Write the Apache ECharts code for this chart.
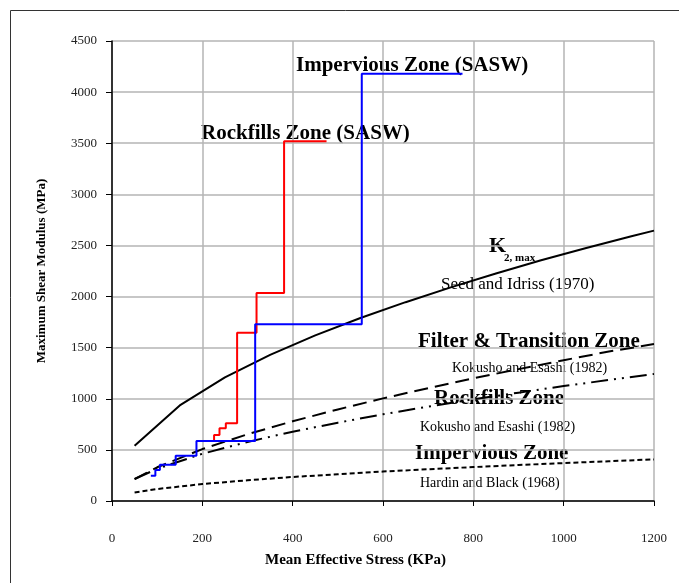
<!DOCTYPE html>
<html>
<head>
<meta charset="utf-8">
<script src="https://cdn.jsdelivr.net/npm/echarts@6/dist/echarts.min.js"></script>
<style>
  html, body { margin: 0; padding: 0; background: #fff; }
  #chart { width: 679px; height: 583px; }
</style>
</head>
<body>
<div id="chart"></div>
<script>
// Seed and Idriss (1970), K2,max
const seedStress = [50, 150, 250, 350, 450, 550, 650, 750, 850, 950, 1050, 1150, 1200];
const seedG = [540, 935, 1210, 1430, 1620, 1790, 1945, 2090, 2225, 2355, 2475, 2590, 2645];

// Kokusho and Esashi / Hardin and Black curves share the stress points
const stress = [50, 100, 200, 300, 400, 500, 600, 700, 800, 900, 1000, 1100, 1200];
const filterG = [215, 330, 508, 653, 780, 896, 1004, 1104, 1200, 1290, 1377, 1462, 1535];
const rockfillG = [215, 315, 462, 578, 678, 766, 848, 923, 994, 1060, 1124, 1184, 1243];
const imperviousG = [83, 117, 166, 203, 235, 262, 288, 311, 332, 352, 371, 389, 407];

// SASW step profiles (corner points)
const rockSaswStress = [226, 226, 238, 252, 277, 320, 381, 475];
const rockSaswG = [587, 646, 711, 760, 1647, 2035, 3520, 3520];
const impSaswStress = [86, 96, 106, 141, 187, 317, 553, 776];
const impSaswG = [248, 303, 355, 443, 588, 1730, 4180, 4180];

const serif = 'Liberation Serif';
const pairs = (xs, ys) => xs.map((x, i) => [x, ys[i]]);

const chart = echarts.init(document.getElementById('chart'));

const lineSeries = (name, xs, ys, color, dash, extra) => Object.assign({
  name: name,
  type: 'line',
  data: pairs(xs, ys),
  symbol: 'none',
  smooth: false,
  silent: true,
  lineStyle: { color: color, width: 2, type: dash }
}, extra || {});

// annotation texts
const label = (text, x, y, size, bold) => ({
  type: 'text',
  left: x,
  top: y - size / 2 - 1,
  style: {
    text: text,
    fill: '#000',
    font: (bold ? 'bold ' : '') + size + 'px "' + serif + '"'
  }
});

chart.setOption({
  animation: false,
  backgroundColor: '#fff',
  grid: { left: 112, top: 41, right: 25, bottom: 82 },
  xAxis: {
    type: 'value',
    min: 0,
    max: 1200,
    interval: 200,
    axisLine: { onZero: false, lineStyle: { color: '#000', width: 1.5 } },
    axisTick: { show: true, length: 5, lineStyle: { color: '#000' } },
    axisLabel: { margin: 31, fontFamily: serif, fontSize: 13, color: '#222', formatter: v => String(v) },
    splitLine: { show: true, lineStyle: { color: '#b4b4b4', width: 1.5 } }
  },
  yAxis: {
    type: 'value',
    min: 0,
    max: 4500,
    interval: 500,
    name: 'Maximum Shear Modulus (MPa)',
    nameLocation: 'middle',
    nameGap: 64,
    nameTextStyle: { fontFamily: serif, fontWeight: 'bold', fontSize: 13, color: '#000' },
    axisLine: { show: true, lineStyle: { color: '#000', width: 1.5 } },
    axisTick: { show: true, length: 6, lineStyle: { color: '#000' } },
    axisLabel: { margin: 15, fontFamily: serif, fontSize: 13, color: '#222', formatter: v => String(v) },
    splitLine: { show: true, lineStyle: { color: '#b4b4b4', width: 1.5 } }
  },
  series: [
    lineSeries('Seed and Idriss (1970)', seedStress, seedG, '#000', 'solid'),
    lineSeries('Filter & Transition Zone', stress, filterG, '#000', [14, 7]),
    lineSeries('Rockfills Zone', stress, rockfillG, '#000', [17, 6, 2, 6, 2, 6]),
    lineSeries('Impervious Zone', stress, imperviousG, '#000', [5, 3]),
    lineSeries('Rockfills Zone (SASW)', rockSaswStress, rockSaswG, '#ff0000', 'solid', { step: 'end' }),
    lineSeries('Impervious Zone (SASW)', impSaswStress, impSaswG, '#0000ff', 'solid', { step: 'end' })
  ],
  graphic: [
    {
      type: 'rect',
      shape: { x: 10.5, y: 10.5, width: 690, height: 600 },
      style: { fill: null, stroke: '#333', lineWidth: 1 },
      silent: true
    },
    label('Mean Effective Stress (KPa)', 265, 561, 15, true),
    label('Impervious Zone (SASW)', 296, 67, 21, true),
    label('Rockfills Zone (SASW)', 201, 135, 21, true),
    label('K', 489, 247, 22, true),
    label('2, max', 504, 259, 11, true),
    label('Seed and Idriss (1970)', 441, 286, 17, false),
    label('Filter & Transition Zone', 418, 343, 21, true),
    label('Kokusho and Esashi (1982)', 452, 369, 14, false),
    label('Rockfills Zone', 434, 400, 21, true),
    label('Kokusho and Esashi (1982)', 420, 428, 14, false),
    label('Impervious Zone', 415, 455, 21, true),
    label('Hardin and Black (1968)', 420, 484, 14, false)
  ]
});
</script>
</body>
</html>
